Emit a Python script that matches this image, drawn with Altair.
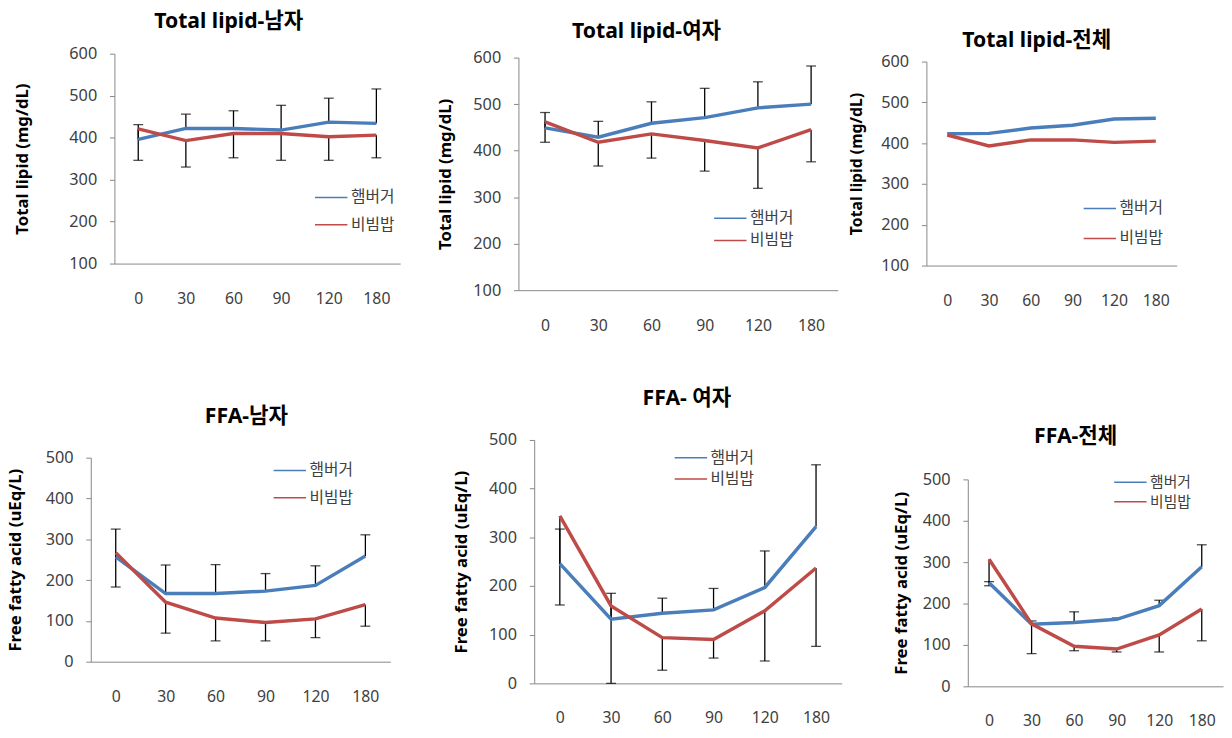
import altair as alt
import pandas as pd

TIMES = ["0", "30", "60", "90", "120", "180"]
SERIES = ["햄버거", "비빔밥"]

# Total lipid - 남자
tl_male_ham = [396, 422, 422, 418, 437, 434]
tl_male_bib = [421, 393, 410, 410, 402, 406]
tl_male_ham_sd = [35, 34, 42, 59, 57, 82]
tl_male_bib_sd = [75, 63, 58, 64, 56, 54]
# Total lipid - 여자
tl_female_ham = [449, 429, 459, 471, 492, 500]
tl_female_bib = [462, 418, 436, 422, 406, 445]
tl_female_ham_sd = [33, 34, 46, 63, 56, 82]
tl_female_bib_sd = [44, 51, 52, 66, 87, 69]
# Total lipid - 전체 (no error bars)
tl_all_ham = [423, 424, 437, 444, 459, 461]
tl_all_bib = [420, 393, 408, 408, 402, 405]
# FFA - 남자
ffa_male_ham = [257, 167, 167, 173, 187, 259]
ffa_male_bib = [267, 146, 107, 96, 105, 140]
ffa_male_ham_sd = [68, 70, 71, 43, 48, 52]
ffa_male_bib_sd = [84, 76, 56, 45, 46, 53]
# FFA - 여자
ffa_female_ham = [246, 132, 144, 151, 197, 322]
ffa_female_bib = [344, 159, 94, 90, 149, 237]
ffa_female_ham_sd = [71, 53, 31, 44, 75, 127]
ffa_female_bib_sd = [183, 159, 67, 38, 103, 161]
# FFA - 전체
ffa_all_ham = [250, 150, 154, 162, 195, 289]
ffa_all_bib = [307, 151, 97, 90, 124, 187]
ffa_all_ham_sd = [3, 8, 26, 3, 13, 53]
ffa_all_bib_sd = [64, 72, 11, 7, 41, 77]

TL_TICKS = [100, 200, 300, 400, 500, 600]
FFA_TICKS = [0, 100, 200, 300, 400, 500]

BLUE = "#4A7EBB"
RED = "#BE4B48"
AXIS_GRAY = "#868686"
TEXT_GRAY = "#404040"
FONT = "Noto Sans, Noto Sans CJK KR, sans-serif"


def spacer(w, h):
    # invisible, zero-size placeholder used only to offset panels in the layout
    return alt.Chart(pd.DataFrame({"s": [0]})).mark_point(
        size=0, opacity=0, strokeWidth=0).properties(width=w, height=h)


def panel(title, ytitle, ham, bib, ham_sd, bib_sd, ydomain, yticks,
          width, height, title_dx, title_offset, ytitle_pad, ytitle_size,
          leg_x, leg_y, leg_gap, leg_font, xlabel_pad):
    df = pd.DataFrame({
        "time": TIMES * 2,
        "series": [SERIES[0]] * len(TIMES) + [SERIES[1]] * len(TIMES),
        "value": ham + bib,
    })
    xenc = alt.X(
        "time:N", sort=TIMES,
        scale=alt.Scale(type="point", padding=0.5),
        axis=alt.Axis(title=None, labelAngle=0, ticks=False, labelPadding=xlabel_pad,
                      domainColor=AXIS_GRAY, labelFontSize=16, labelColor=TEXT_GRAY,
                      labelFont=FONT),
    )
    yscale = alt.Scale(domain=ydomain, nice=False, zero=False)
    yaxis = alt.Axis(values=yticks, title=ytitle, grid=False, domainColor=AXIS_GRAY,
                     tickColor=AXIS_GRAY, tickSize=5, labelPadding=13, labelFontSize=16.5,
                     labelColor=TEXT_GRAY, labelFont=FONT, titleFont=FONT,
                     titleFontSize=ytitle_size, titleFontWeight="bold", titleColor="black",
                     titlePadding=ytitle_pad)
    color = alt.Color(
        "series:N", sort=SERIES,
        scale=alt.Scale(domain=SERIES, range=[BLUE, RED]),
        legend=alt.Legend(title=None, orient="none", legendX=leg_x, legendY=leg_y,
                          symbolType="M-2,0L2,0", symbolSize=270, symbolStrokeWidth=1.5,
                          labelFontSize=leg_font, labelColor=TEXT_GRAY, labelFont=FONT,
                          labelOffset=11, rowPadding=leg_gap - 16.4, padding=0),
    )
    lines = alt.Chart(df).mark_line(strokeWidth=3.5).encode(
        x=xenc, y=alt.Y("value:Q", scale=yscale, axis=yaxis), color=color)
    layers = []
    if ham_sd is not None:
        edf = pd.DataFrame({
            "time": TIMES * 2,
            "lo": ham + [b - s for b, s in zip(bib, bib_sd)],
            "hi": [h + s for h, s in zip(ham, ham_sd)] + bib,
            "cap": [h + s for h, s in zip(ham, ham_sd)] + [b - s for b, s in zip(bib, bib_sd)],
        })
        rules = alt.Chart(edf).mark_rule(color="black", strokeWidth=1.3).encode(
            x=xenc, y=alt.Y("lo:Q", scale=yscale, axis=yaxis), y2="hi:Q")
        caps = alt.Chart(edf).mark_tick(color="black", thickness=1.3, size=10,
                                        orient="horizontal").encode(
            x=xenc, y=alt.Y("cap:Q", scale=yscale, axis=yaxis))
        layers += [rules, caps]
    layers.append(lines)
    return alt.layer(*layers).properties(
        width=width, height=height,
        title=alt.TitleParams(title, fontSize=21.5, font=FONT, fontWeight="bold",
                              color="black", anchor="middle", frame="group",
                              dx=title_dx, offset=title_offset, baseline="alphabetic"),
    )


def wrap(p, h):
    return alt.vconcat(spacer(1, h), p, spacing=0).resolve_scale(color="independent")


p1 = panel("Total lipid-남자", "Total lipid (mg/dL)", tl_male_ham, tl_male_bib,
           tl_male_ham_sd, tl_male_bib_sd, [100, 600], TL_TICKS,
           290, 213, -29, -3, 38, 17, 211, 137, 27, 16, 28)
p2 = panel("Total  lipid-여자", "Total lipid (mg/dL)", tl_female_ham, tl_female_bib,
           tl_female_ham_sd, tl_female_bib_sd, [100, 600], TL_TICKS,
           324, 236, -32, -10, 19, 17, 206, 154, 22, 16, 28)
p3 = panel("Total  lipid-전체", "Total lipid (mg/dL)", tl_all_ham, tl_all_bib,
           None, None, [100, 600], TL_TICKS,
           254, 207, -15, -15, 17, 16, 167, 140, 30, 16, 28)
p4 = panel("FFA-남자", "Free fatty acid (uEq/L)", ffa_male_ham, ffa_male_bib,
           ffa_male_ham_sd, ffa_male_bib_sd, [0, 500], FFA_TICKS,
           304, 207, 6, 6, 21, 17, 193, 4, 27, 16, 27)
p5 = panel("FFA- 여자", "Free fatty acid (uEq/L)", ffa_female_ham, ffa_female_bib,
           ffa_female_ham_sd, ffa_female_bib_sd, [0, 500], FFA_TICKS,
           312, 247, -1, 6, 18, 17, 150, 9, 21, 16, 27)
p6 = panel("FFA-전체", "Free fatty acid (uEq/L)", ffa_all_ham, ffa_all_bib,
           ffa_all_ham_sd, ffa_all_bib_sd, [0, 500], FFA_TICKS,
           259, 210, -20, 7, 12, 17, 156, -6, 19, 15, 27)

row1 = alt.hconcat(
    spacer(8, 1),
    alt.hconcat(wrap(p1, 5), spacer(17, 1), wrap(p2, 16), wrap(p3, 25), spacing=9
                ).resolve_scale(color="independent"),
    spacing=0,
).resolve_scale(color="independent")
row2 = alt.hconcat(
    spacer(1, 1),
    alt.hconcat(
        wrap(p4, 19),
        alt.hconcat(wrap(p5, 1), wrap(p6, 40), spacing=50).resolve_scale(color="independent"),
        spacing=62,
    ).resolve_scale(color="independent"),
    spacing=0,
).resolve_scale(color="independent")

chart = alt.vconcat(row1, row2, spacing=53).resolve_scale(color="independent").properties(
    padding={"left": -3, "top": -8, "right": 0, "bottom": -2},
    background="white",
).configure_view(stroke="transparent")

chart.save("out.html", embed_options={"renderer": "svg", "actions": False})
